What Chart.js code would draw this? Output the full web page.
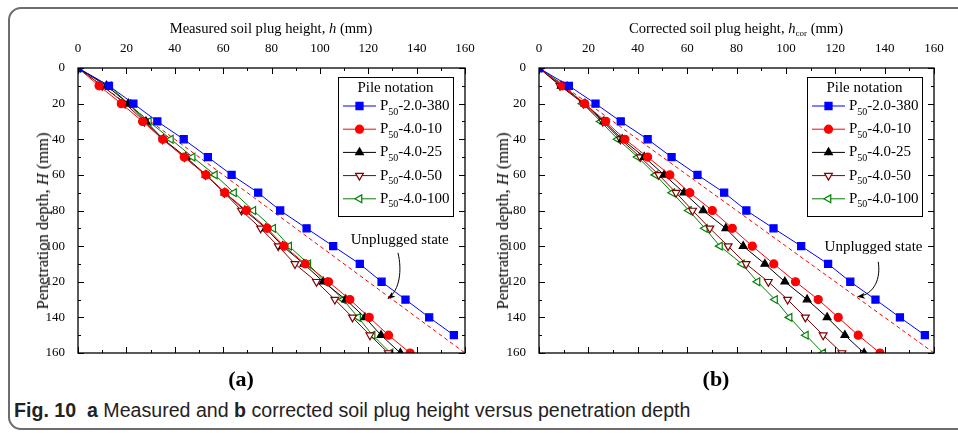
<!DOCTYPE html>
<html lang="en">
<head>
<meta charset="UTF-8">
<title>Soil plug height versus penetration depth</title>
<script src="https://cdn.jsdelivr.net/npm/chart.js"></script>
<style>
  body { margin:0; background:#fff; width:958px; height:433px; overflow:hidden; position:relative; font-family:'Liberation Serif','Times New Roman',serif; color:#000; }
  .frame { position:absolute; left:8px; top:7px; width:990px; height:423px; border:2px solid #6d6d6d; border-radius:13px; box-sizing:border-box; }
  canvas { position:absolute; top:0; }
  #chartA { left:0; }
  #chartB { left:480px; }
  .xt { position:absolute; top:20px; font-size:14.6px; line-height:16px; white-space:nowrap; transform:translateX(-50%); }
  .yt { position:absolute; top:221px; font-size:16.5px; line-height:18px; white-space:nowrap; transform:translate(-50%,-50%) rotate(-90deg); }
  .xt sub { font-size:9px; vertical-align:-3px; }
  .tag { position:absolute; top:366px; font-weight:bold; font-size:22px; line-height:26px; transform:translateX(-50%); }
  .caption { position:absolute; left:14px; top:399px; font-family:'Liberation Sans',Arial,sans-serif; font-size:19.6px; line-height:22px; color:#222; white-space:nowrap; }
  .caption b { font-weight:bold; }
</style>
</head>
<body>
<div class="frame"></div>
<canvas id="chartA" width="480" height="370"></canvas>
<canvas id="chartB" width="478" height="370"></canvas>

<div class="xt" style="left:271px">Measured soil plug height, <i>h</i> (mm)</div>
<div class="xt" style="left:736px">Corrected soil plug height, <i>h</i><sub>cor</sub> (mm)</div>
<div class="yt" style="left:43px">Penetration depth, <i>H</i> (mm)</div>
<div class="yt" style="left:503px">Penetration depth, <i>H</i> (mm)</div>
<div class="tag" style="left:241px">(a)</div>
<div class="tag" style="left:716px">(b)</div>
<div class="caption"><b>Fig. 10</b>&nbsp; <b>a</b> Measured and <b>b</b> corrected soil plug height versus penetration depth</div>

<script>
// penetration depth H (mm), the vertical axis
const depth = [0, 10, 20, 30, 40, 50, 60, 70, 80, 90, 100, 110, 120, 130, 140, 150, 160];
const ticks = [0, 20, 40, 60, 80, 100, 120, 140, 160];

// (a) measured soil plug height h (mm)
const measured380 = [0, 12.8, 22.9, 32.8, 43.7, 53.7, 63.5, 74.5, 83.6, 94.5, 105.5, 116.5, 125.5, 135.4, 145.2, 155.4, null];
const measured10  = [0, 8.7, 17.9, 26.7, 35.0, 43.9, 52.9, 60.7, 69.6, 78.2, 85.2, 94.0, 103.6, 112.4, 120.4, 128.4, 137.3];
const measured25  = [0, 11.8, 20.8, 28.1, 35.3, 44.6, 52.9, 60.7, 69.0, 77.7, 84.6, 93.4, 101.4, 110.7, 118.6, 125.3, 133.3];
const measured50  = [0, 10.0, 19.5, 27.5, 35.0, 44.0, 52.7, 60.5, 67.6, 75.5, 82.8, 89.7, 98.6, 106.2, 113.5, 120.7, 128.3];
const measured100 = [0, 12.8, 20.8, 29.3, 38.4, 47.4, 56.6, 64.5, 72.5, 80.7, 87.3, 95.2, 102.1, 109.6, 115.8, 121.8, 129.2];

// (b) corrected soil plug height h_cor (mm)
const corrected380 = [0, 12.1, 22.9, 33.1, 44.0, 53.7, 64.2, 75.0, 84.0, 95.0, 106.2, 117.1, 126.1, 136.3, 146.2, 156.3, null];
const corrected10  = [0, 9.5, 18.5, 27.0, 34.8, 44.0, 53.0, 61.1, 70.2, 78.3, 86.4, 95.1, 103.9, 113.1, 121.2, 129.3, 138.1];
const corrected25  = [0, 9.0, 18.6, 26.3, 33.7, 42.6, 50.7, 58.7, 66.5, 75.7, 82.7, 91.5, 99.6, 108.6, 116.7, 123.9, 131.7];
const corrected50  = [0, 8.5, 18.0, 25.8, 33.0, 41.0, 48.5, 55.5, 62.2, 69.2, 76.6, 83.9, 92.9, 100.7, 107.9, 115.1, 122.7];
const corrected100 = [0, 10.5, 17.7, 25.0, 31.9, 40.0, 47.2, 54.0, 60.7, 67.2, 73.3, 82.2, 88.5, 95.6, 101.5, 108.1, 115.1];

// unplugged state: h = H
const unplugged = [0, 160];

const piles = [
  { name: '-2.0-380', color: '#0000ff', fill: '#0000ff', style: 'rect',     rot: 0,   r: 5 },
  { name: '-4.0-10',  color: '#ff0000', fill: '#ff0000', style: 'circle',   rot: 0,   r: 4 },
  { name: '-4.0-25',  color: '#000000', fill: '#000000', style: 'triangle', rot: 0,   r: 4.5 },
  { name: '-4.0-50',  color: '#800000', fill: '#ffffff', style: 'triangle', rot: 180, r: 4.5 },
  { name: '-4.0-100', color: '#008000', fill: '#ffffff', style: 'triangle', rot: 270, r: 4.5 }
];

const SERIF = "'Liberation Serif', 'Times New Roman', serif";
Chart.defaults.font.family = SERIF;
Chart.defaults.color = '#000';

function toPoints(values) {
  return depth.map((H, i) => values[i] == null ? null : { x: values[i], y: H }).filter(p => p);
}

// box with inward ticks on all four sides
const boxPlugin = {
  id: 'box',
  afterDatasetsDraw(chart) {
    const { ctx, chartArea: a, scales: { x, y } } = chart;
    ctx.save();
    ctx.strokeStyle = '#000';
    ctx.lineWidth = 1.3;
    ctx.strokeRect(a.left, a.top, a.right - a.left, a.bottom - a.top);
    ctx.lineWidth = 1;
    ctx.beginPath();
    for (let v = 0; v <= 160; v += 10) {
      const len = v % 20 === 0 ? 6 : 3;
      const px = Math.round(x.getPixelForValue(v)) + 0.5;
      const py = Math.round(y.getPixelForValue(v)) + 0.5;
      ctx.moveTo(px, a.top); ctx.lineTo(px, a.top + len);
      ctx.moveTo(px, a.bottom); ctx.lineTo(px, a.bottom - len);
      ctx.moveTo(a.left, py); ctx.lineTo(a.left + len, py);
      ctx.moveTo(a.right, py); ctx.lineTo(a.right - len, py);
    }
    ctx.stroke();
    ctx.restore();
  }
};

// legend box "Pile notation" and the "Unplugged state" note
const notePlugin = {
  id: 'notes',
  afterDraw(chart, args, opts) {
    const { ctx, chartArea: a, scales: { x, y } } = chart;
    ctx.save();
    // legend
    const bx = a.right - 127, by = a.top + 9, bw = 115, bh = 139;
    ctx.fillStyle = '#fff';
    ctx.fillRect(bx, by, bw, bh);
    ctx.strokeStyle = '#000';
    ctx.lineWidth = 1;
    ctx.strokeRect(bx + 0.5, by + 0.5, bw, bh);
    ctx.fillStyle = '#000';
    ctx.textBaseline = 'middle';
    ctx.textAlign = 'center';
    ctx.font = '15px ' + SERIF;
    ctx.fillText('Pile notation', bx + bw / 2, by + 11);
    ctx.textAlign = 'left';
    piles.forEach((p, i) => {
      const cy = by + 29 + i * 23.2;
      ctx.strokeStyle = p.color;
      ctx.lineWidth = 1;
      ctx.beginPath();
      ctx.moveTo(bx + 5, cy); ctx.lineTo(bx + 38, cy);
      ctx.stroke();
      ctx.fillStyle = p.fill;
      ctx.lineWidth = 1.2;
      Chart.helpers.drawPoint(ctx, { pointStyle: p.style, radius: p.r, rotation: p.rot, borderWidth: 1.2 }, bx + 21.5, cy);
      ctx.fillStyle = '#000';
      let tx = bx + 42;
      ctx.font = '15px ' + SERIF;
      ctx.fillText('P', tx, cy);
      tx += ctx.measureText('P').width;
      ctx.font = '10px ' + SERIF;
      ctx.fillText('50', tx, cy + 6);
      tx += ctx.measureText('50').width;
      ctx.font = '15px ' + SERIF;
      ctx.fillText(p.name, tx, cy);
    });
    // unplugged state label with curved arrow
    const n = opts.note;
    ctx.textAlign = 'center';
    ctx.font = '15px ' + SERIF;
    ctx.fillText('Unplugged state', x.getPixelForValue(n.text[0]), y.getPixelForValue(n.text[1]));
    const P = n.arrow.map(q => [x.getPixelForValue(q[0]), y.getPixelForValue(q[1])]);
    ctx.strokeStyle = '#000';
    ctx.lineWidth = 1;
    ctx.beginPath();
    ctx.moveTo(P[0][0], P[0][1]);
    ctx.bezierCurveTo(P[1][0], P[1][1], P[2][0], P[2][1], P[3][0], P[3][1]);
    ctx.stroke();
    const ang = Math.atan2(P[3][1] - P[2][1], P[3][0] - P[2][0]);
    ctx.translate(P[3][0], P[3][1]);
    ctx.rotate(ang);
    ctx.beginPath();
    ctx.moveTo(1, 0); ctx.lineTo(-7, -3); ctx.lineTo(-5, 0); ctx.lineTo(-7, 3);
    ctx.closePath();
    ctx.fill();
    ctx.restore();
  }
};

function makePanel(id, series, area, note) {
  const canvas = document.getElementById(id);
  const datasets = [{
    data: unplugged.map(v => ({ x: v, y: v })),
    borderColor: '#ff0000',
    borderWidth: 1,
    borderDash: [4, 3],
    pointRadius: 0,
    showLine: true,
    order: 10
  }];
  series.forEach((vals, i) => {
    const p = piles[i];
    datasets.push({
      label: 'P50' + p.name,
      data: toPoints(vals),
      showLine: true,
      borderColor: p.color,
      backgroundColor: p.fill,
      borderWidth: 1,
      pointStyle: p.style,
      rotation: p.rot,
      pointRadius: p.r,
      pointBorderWidth: 1.2,
      pointBorderColor: p.color,
      pointBackgroundColor: p.fill,
      order: i
    });
  });
  const tickFont = { family: SERIF, size: 13 };
  return new Chart(canvas, {
    type: 'scatter',
    data: { datasets },
    options: {
      responsive: false,
      animation: false,
      layout: { padding: { left: 0, top: 0, right: canvas.width - area.right, bottom: canvas.height - area.bottom } },
      plugins: { legend: { display: false }, tooltip: { enabled: false }, notes: { note } },
      scales: {
        x: {
          type: 'linear', position: 'top', min: 0, max: 160,
          afterBuildTicks: s => { s.ticks = ticks.map(v => ({ value: v })); },
          ticks: { font: tickFont, color: '#000', padding: 4, maxRotation: 0 },
          grid: { display: false },
          border: { display: false },
          afterFit: s => { s.height = area.top; }
        },
        y: {
          type: 'linear', reverse: true, min: 0, max: 160,
          afterBuildTicks: s => { s.ticks = ticks.map(v => ({ value: v })); },
          ticks: { font: tickFont, color: '#000', padding: 5 },
          grid: { display: false },
          border: { display: false },
          afterFit: s => { s.width = area.left; }
        }
      }
    },
    plugins: [boxPlugin, notePlugin]
  });
}

makePanel('chartA',
  [measured380, measured10, measured25, measured50, measured100],
  { left: 78, top: 68, right: 465, bottom: 353 },
  { text: [133, 96.6], arrow: [[132.3, 103.8], [134, 113.4], [133.1, 124.7], [128.2, 129.3]] });

makePanel('chartB',
  [corrected380, corrected10, corrected25, corrected50, corrected100],
  { left: 59, top: 68, right: 454, bottom: 353 },
  { text: [135.5, 100.5], arrow: [[137.4, 108.8], [138.5, 118], [136, 127], [129.2, 128.4]] });
</script>
</body>
</html>
